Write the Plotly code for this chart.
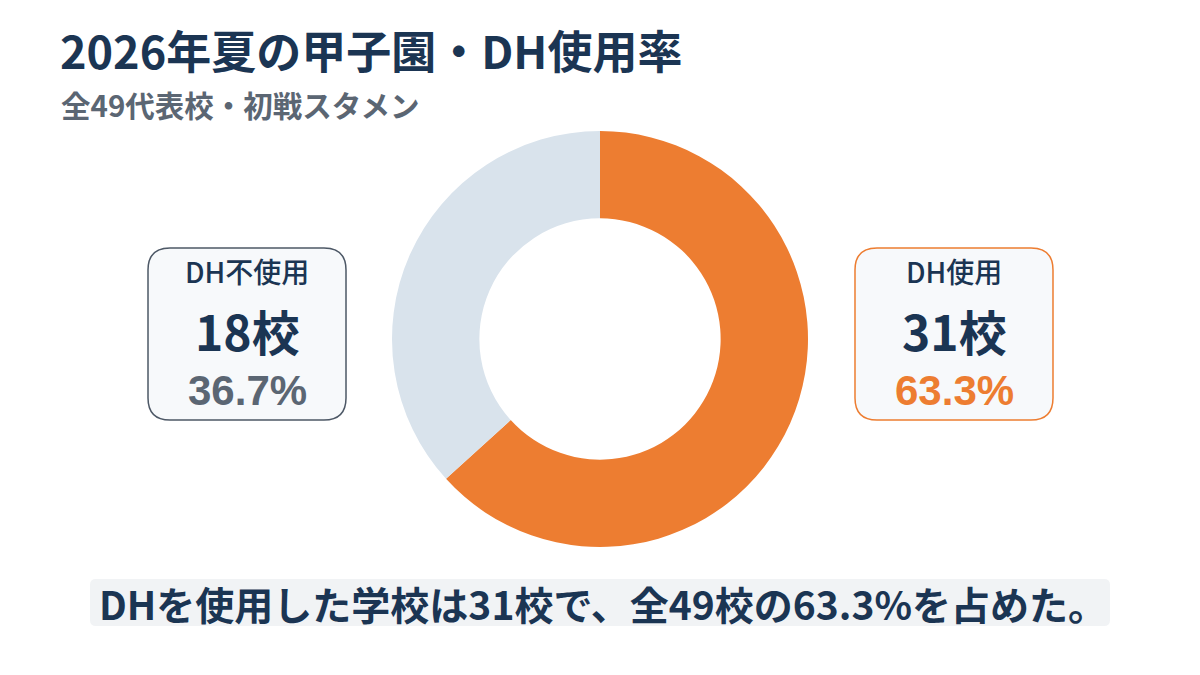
import plotly.graph_objects as go

W, H = 1200, 675
OFF = 8  # page body margin in the browser

# data
categories = ["DH使用", "DH不使用"]
counts = [31, 18]
total_schools = 49
slice_colors = ["#ED7D31", "#D9E3EC"]

title = "2026年夏の甲子園・DH使用率"
subtitle = "全49代表校・初戦スタメン"
summary = "DHを使用した学校は31校で、全49校の63.3%を占めた。"

NAVY = "#1B3553"
GRAY = "#5B6673"
JP = "Noto Sans CJK JP"


def fx(x):
    return (x - OFF) / W


def fy(y):
    return 1 - (y - OFF) / H


def round_rect(x0, y0, x1, y1, r):
    def P(x, y):
        return f"{fx(x):.5f},{fy(y):.5f}"
    return (f"M {P(x0 + r, y0)} L {P(x1 - r, y0)} Q {P(x1, y0)} {P(x1, y0 + r)} "
            f"L {P(x1, y1 - r)} Q {P(x1, y1)} {P(x1 - r, y1)} "
            f"L {P(x0 + r, y1)} Q {P(x0, y1)} {P(x0, y1 - r)} "
            f"L {P(x0, y0 + r)} Q {P(x0, y0)} {P(x0 + r, y0)} Z")


fig = go.Figure()

# donut
cx, cy, rad = 600, 339, 208
fig.add_trace(go.Pie(
    labels=categories,
    values=counts,
    sort=False,
    direction="clockwise",
    rotation=0,
    hole=0.58,
    marker=dict(colors=slice_colors, line=dict(width=0)),
    textinfo="none",
    hoverinfo="skip",
    showlegend=False,
    domain=dict(x=[fx(cx - rad), fx(cx + rad)], y=[fy(cy + rad), fy(cy - rad)]),
))

shapes = []
annotations = []

# title and subtitle
annotations.append(dict(text=f"<b>{title}</b>", x=fx(58), y=fy(50), xanchor="left", yanchor="middle",
                        showarrow=False, font=dict(family=JP, size=45, color=NAVY)))
annotations.append(dict(text=f"<b>{subtitle}</b>", x=fx(59), y=fy(104), xanchor="left", yanchor="middle",
                        showarrow=False, font=dict(family=JP, size=29.5, color=GRAY)))

# side boxes
boxes = [
    # (category index, center x, border, pct color)
    (1, 247, "#4D5866", GRAY),
    (0, 954, "#ED7D31", "#ED7D31"),
]
for idx, bx, border, pct_color in boxes:
    shapes.append(dict(type="path", xref="paper", yref="paper",
                       path=round_rect(bx - 99, 248, bx + 99, 420, 22),
                       fillcolor="#F7F9FB", line=dict(color=border, width=1.5)))
    pct = counts[idx] / total_schools * 100
    annotations.append(dict(text=categories[idx], x=fx(bx), y=fy(271), xanchor="center", yanchor="middle",
                            showarrow=False, font=dict(family=JP, size=28, color=NAVY, weight=500)))
    annotations.append(dict(text=f"<b>{counts[idx]}校</b>", x=fx(bx), y=fy(330), xanchor="center",
                            yanchor="middle", showarrow=False, font=dict(family=JP, size=48, color=NAVY)))
    annotations.append(dict(text=f"<b>{pct:.1f}%</b>", x=fx(bx), y=fy(391), xanchor="center",
                            yanchor="middle", showarrow=False,
                            font=dict(family="Liberation Sans", size=42, color=pct_color)))

# summary strip
shapes.append(dict(type="path", xref="paper", yref="paper",
                   path=round_rect(90, 579, 1110, 626, 6),
                   fillcolor="#F1F3F5", line=dict(width=0)))
annotations.append(dict(text=f"<b>{summary}</b>", x=fx(603), y=fy(603), xanchor="center", yanchor="middle",
                        showarrow=False, font=dict(family=JP, size=39, color=NAVY)))

fig.update_layout(
    width=W, height=H,
    margin=dict(l=0, r=0, t=0, b=0),
    paper_bgcolor="white",
    plot_bgcolor="white",
    shapes=shapes,
    annotations=annotations,
)

fig.write_html("out.html")
